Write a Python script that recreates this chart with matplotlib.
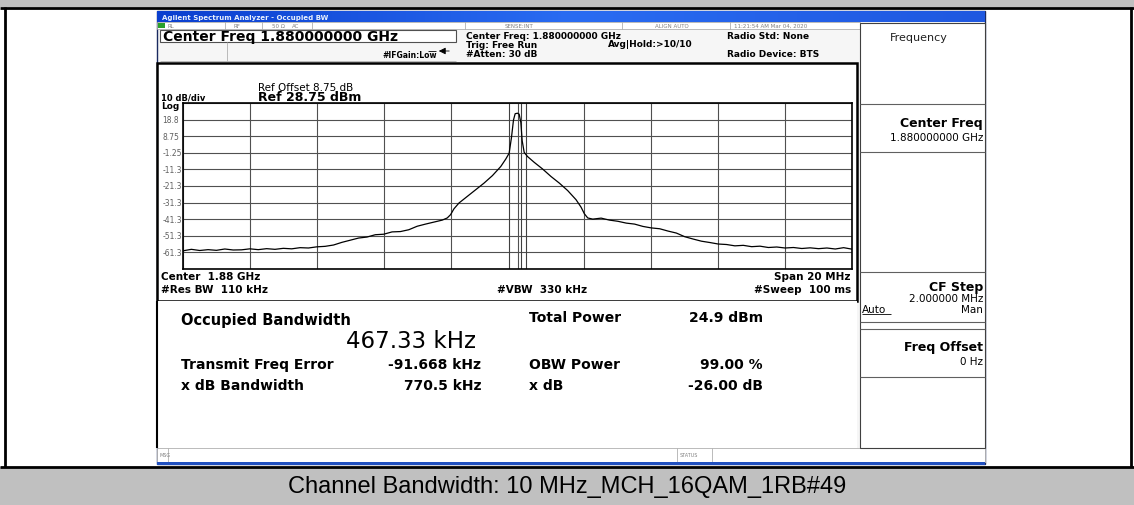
import numpy as np
import matplotlib.pyplot as plt
from matplotlib.patches import Rectangle
from matplotlib.colors import LinearSegmentedColormap

W, H = 1134, 506

# --- trace: offset from 1.88 GHz (MHz) and level (dBm) ---
freq_mhz = [-10.0, -9.75, -9.5, -9.25, -9.0, -8.75, -8.5, -8.25, -8.0, -7.75,
            -7.5, -7.25, -7.0, -6.75, -6.5, -6.25, -6.0, -5.75, -5.5, -5.25,
            -5.0, -4.75, -4.5, -4.25, -4.0, -3.75, -3.5, -3.25, -3.0, -2.75,
            -2.5, -2.25, -2.1, -2.0, -1.9, -1.75, -1.5, -1.25, -1.0, -0.75,
            -0.5, -0.35, -0.25, -0.18, -0.12, -0.07, 0.0, 0.05, 0.1, 0.14,
            0.2, 0.3, 0.5, 0.75, 1.0, 1.25, 1.5, 1.75, 1.9, 2.0,
            2.1, 2.25, 2.5, 2.75, 3.0, 3.25, 3.5, 3.75, 4.0, 4.25,
            4.5, 4.75, 5.0, 5.25, 5.5, 5.75, 6.0, 6.25, 6.5, 6.75,
            7.0, 7.25, 7.5, 7.75, 8.0, 8.25, 8.5, 8.75, 9.0, 9.25,
            9.5, 9.75, 10.0]
level_dbm = [-60.3, -59.4, -60.1, -59.6, -60.0, -59.2, -59.8, -59.7, -59.1, -59.6,
             -59.0, -59.4, -58.8, -59.1, -58.4, -58.6, -57.9, -57.6, -56.8, -55.2,
             -53.9, -52.6, -52.0, -50.6, -50.3, -48.9, -48.7, -47.6, -45.5, -44.2,
             -43.0, -41.8, -40.5, -38.5, -35.0, -31.5, -27.5, -23.5, -19.5, -15.0,
             -9.5, -5.0, -1.5, 8.0, 18.5, 22.3, 22.6, 22.0, 17.0, 6.0,
             -1.0, -3.5, -7.0, -11.0, -15.5, -19.5, -24.0, -29.5, -34.0, -38.0,
             -40.5, -41.2, -40.6, -41.8, -42.5, -43.6, -44.2, -45.6, -46.5, -47.0,
             -48.4, -49.6, -51.8, -53.2, -54.5, -55.3, -56.2, -56.5, -57.3, -57.0,
             -57.8, -57.5, -58.3, -58.0, -58.6, -58.3, -58.9, -58.5, -59.0, -58.6,
             -59.2, -58.4, -59.3]

ref_level = 28.75
db_per_div = 10
y_labels = ['18.8', '8.75', '-1.25', '-11.3', '-21.3', '-31.3', '-41.3', '-51.3', '-61.3']
marker_mhz = [-0.24, 0.11, 0.26]

# --- measurement results ---
obw_value = '467.33 kHz'
left_names = ['Transmit Freq Error', 'x dB Bandwidth']
left_values = ['-91.668 kHz', '770.5 kHz']
right_names = ['Total Power', 'OBW Power', 'x dB']
right_values = ['24.9 dBm', '99.00 %', '-26.00 dB']

caption = 'Channel Bandwidth: 10 MHz_MCH_16QAM_1RB#49'

fig = plt.figure(figsize=(W / 100, H / 100), dpi=100, facecolor='white')
bg = fig.add_axes([0, 0, 1, 1])
bg.set_xlim(0, W)
bg.set_ylim(H, 0)
bg.axis('off')


def box(x0, y0, x1, y1, fc='none', ec='black', lw=1.0, z=1):
    bg.add_patch(Rectangle((x0, y0), x1 - x0, y1 - y0, facecolor=fc,
                           edgecolor=ec, linewidth=lw, zorder=z))


def line(x0, y0, x1, y1, c='black', lw=1.0, z=3):
    bg.plot([x0, x1], [y0, y1], color=c, lw=lw, zorder=z, solid_capstyle='butt')


def txt(x, y, s, size=7, weight='bold', ha='left', color='black', **kw):
    bg.text(x, y, s, fontsize=size, fontweight=weight, ha=ha, va='center',
            color=color, zorder=6, **kw)


# --- outer table cell ---
box(0, 0, W, 8, fc='#c0c0c0', ec='none')
box(0, 468, W, H, fc='#c0c0c0', ec='none')
line(0, 8.5, W, 8.5, lw=2)
line(0, 467.5, W, 467.5, lw=2)
line(4.5, 8, 4.5, 468, lw=2)
line(1131, 8, 1131, 468, lw=2)
txt(567, 487, caption, size=17, weight='normal', ha='center',
    family=['Liberation Sans Narrow', 'Liberation Sans'])

# --- analyzer window ---
box(157, 12, 985, 465, fc='#f6f6f6', ec='#1a2a60', lw=1.0)
grad = np.linspace(0, 1, 256)[None, :]
cmap_tb = LinearSegmentedColormap.from_list('tb', ['#0b3fcf', '#2a6cf2', '#1f58e0'])
bg.imshow(grad, extent=(157, 985, 23, 12), cmap=cmap_tb, aspect='auto', zorder=2)
bg.set_xlim(0, W)
bg.set_ylim(H, 0)
txt(162, 17.5, 'Agilent Spectrum Analyzer - Occupied BW', size=5, color='#e8f0ff')

# status row
box(157, 23, 860, 30, fc='white', ec='#a0a0a0', lw=0.5, z=2)
box(158, 23.6, 165, 29.4, fc='#2aa02a', ec='none', z=3)
for sx in [225, 262, 312, 465, 622, 730]:
    line(sx, 23, sx, 30, c='#a0a0a0', lw=0.5)
for sx, s in [(168, 'RL'), (233, 'RF'), (272, '50 Ω'), (292, 'AC'),
              (505, 'SENSE:INT'), (655, 'ALIGN AUTO'), (734, '11:21:54 AM Mar 04, 2020')]:
    txt(sx, 26.5, s, size=4, weight='normal', color='#808080')

# center freq box and settings
box(160, 30.5, 456, 43, fc='white', ec='#505050', lw=0.8, z=2)
txt(163, 37, 'Center Freq 1.880000000 GHz', size=10)
line(227, 43, 227, 62, c='#b0b0b0', lw=0.6)
line(160, 62, 456, 62, c='#b0b0b0', lw=0.6)
txt(382, 55, '#IFGain:Low', size=5.5)
bg.annotate('', xy=(436, 52), xytext=(452, 52),
            arrowprops=dict(arrowstyle='-|>', lw=0.6, color='black'), zorder=6)
line(428, 52, 436, 52, lw=0.6)
txt(466, 36.5, 'Center Freq: 1.880000000 GHz', size=6.5)
txt(466, 45.5, 'Trig: Free Run', size=6.5)
txt(466, 54.5, '#Atten: 30 dB', size=6.5)
txt(608, 44, 'Avg|Hold:>10/10', size=6.5)
txt(727, 36.5, 'Radio Std: None', size=6.5)
txt(727, 54.5, 'Radio Device: BTS', size=6.5)

# --- plot area ---
box(157, 64, 857, 302, fc='white', ec='black', lw=1.8, z=2)
txt(258, 88, 'Ref Offset 8.75 dB', size=7.5, weight='normal')
txt(258, 97.5, 'Ref 28.75 dBm', size=9)
txt(161, 98, '10 dB/div', size=6)
txt(161, 106.5, 'Log', size=6.5)
txt(161, 277, 'Center  1.88 GHz', size=7.5)
txt(161, 290, '#Res BW  110 kHz', size=7.5)
txt(497, 290, '#VBW  330 kHz', size=7.5)
txt(851, 277, 'Span 20 MHz', size=7.5, ha='right')
txt(851, 290, '#Sweep  100 ms', size=7.5, ha='right')

gx0, gy0, gx1, gy1 = 183, 104, 852, 270
ax = fig.add_axes([gx0 / W, 1 - gy1 / H, (gx1 - gx0) / W, (gy1 - gy0) / H])
ax.set_xlim(-10, 10)
ax.set_ylim(ref_level - 10 * db_per_div, ref_level)
ax.set_xticks(np.arange(-10, 11, 2))
ax.set_yticks(ref_level - db_per_div * np.arange(11))
ax.tick_params(length=0, labelbottom=False, labelleft=False)
ax.grid(True, color='#505050', lw=0.8)
for sp in ax.spines.values():
    sp.set_color('black')
    sp.set_linewidth(1.2)
for m in marker_mhz:
    ax.axvline(m, color='#404040', lw=0.8)
ax.plot(freq_mhz, level_dbm, color='black', lw=0.9)
for k, lab in enumerate(y_labels):
    ax.text(-0.031, ref_level - db_per_div * (k + 1), lab, transform=ax.get_yaxis_transform(),
            fontsize=5.5, color='#606060', ha='left', va='center')

# --- measurement panel ---
box(157, 302, 857, 449, fc='white', ec='none', z=2)
line(157, 302, 157, 449, lw=1.5)
txt(181, 320, 'Occupied Bandwidth', size=10.5)
txt(346, 342, obw_value, size=16.5, weight='normal')
for i, (n, v) in enumerate(zip(left_names, left_values)):
    txt(181, 365 + 21 * i, n, size=10)
    txt(481, 365 + 21 * i, v, size=10, ha='right')
for i, (n, v) in enumerate(zip(right_names, right_values)):
    yy = 318 if i == 0 else 365 + 21 * (i - 1)
    txt(529, yy, n, size=10)
    txt(763, yy, v, size=10, ha='right')

# msg / status bar
box(157, 449, 985, 463, fc='white', ec='#b0b0b0', lw=0.6, z=2)
line(168, 449, 168, 463, c='#b0b0b0', lw=0.6)
line(677, 449, 677, 463, c='#b0b0b0', lw=0.6)
line(712, 449, 712, 463, c='#b0b0b0', lw=0.6)
txt(159, 456, 'MSG', size=3.5, weight='normal', color='#808080')
txt(680, 456, 'STATUS', size=3.5, weight='normal', color='#808080')
box(157, 463, 985, 465.5, fc='#2050c0', ec='none', z=3)

# --- softkey panel ---
box(860, 24, 985, 449, fc='white', ec='#404040', lw=0.8, z=2)
for ky in [105, 153, 273, 323, 330, 378]:
    line(860, ky, 985, ky, c='#606060', lw=0.8)
txt(890, 38, 'Frequency', size=8, weight='normal', color='#202020')
txt(983, 123, 'Center Freq', size=9, ha='right')
txt(983, 138, '1.880000000 GHz', size=7.5, weight='normal', ha='right')
txt(983, 287, 'CF Step', size=9, ha='right')
txt(983, 299, '2.000000 MHz', size=7.5, weight='normal', ha='right')
txt(862, 310, 'Auto', size=7.5, weight='normal')
line(862, 315, 891, 315, lw=0.6)
txt(983, 310, 'Man', size=7.5, weight='normal', ha='right')
txt(983, 347, 'Freq Offset', size=9, ha='right')
txt(983, 362, '0 Hz', size=7.5, weight='normal', ha='right')

fig.savefig('out.png', dpi=100)
